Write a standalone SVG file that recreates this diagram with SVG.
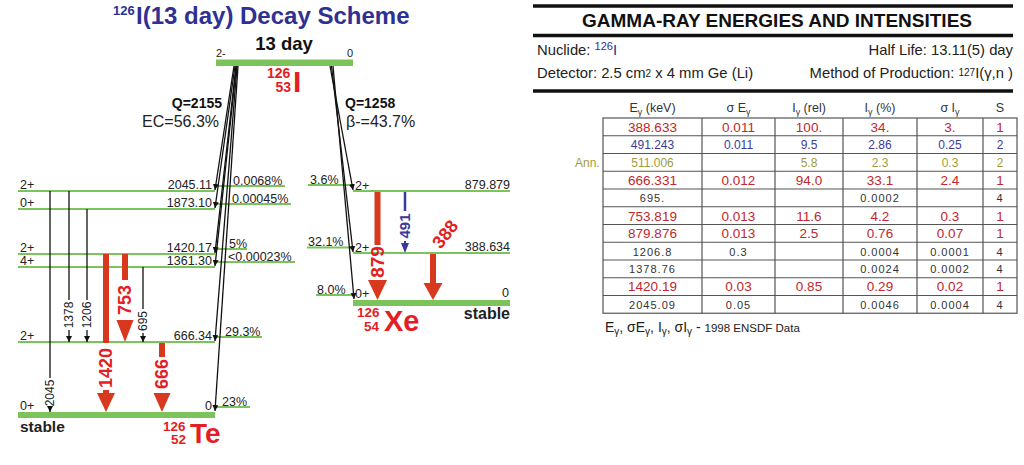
<svg xmlns="http://www.w3.org/2000/svg" width="1024" height="465" viewBox="0 0 1024 465">
<defs>
<style>
text{font-family:"Liberation Sans",Arial,sans-serif;}
.lvl{stroke:#7dc35b;stroke-width:2;fill:none;}
.bar{fill:#7dc35b;}
.lbl{font-size:12.5px;fill:#222;}
.pct{font-size:12.5px;fill:#222;}
.feed{stroke:#111;stroke-width:1.3;fill:none;}
.gth{stroke:#111;stroke-width:1.3;fill:none;}
.rshaft{fill:#d7381e;}
.rlab{fill:#e31e24;font-weight:bold;}
.glab{font-size:12px;fill:#222;}
.tline{stroke:#111;stroke-width:3.5;}
.grid{stroke:#555;stroke-width:1.2;fill:none;}
.hd{font-size:12.5px;fill:#333;text-anchor:middle;}
.cr{font-size:13.5px;fill:#c1272d;text-anchor:middle;}
.cb{font-size:12px;fill:#3c3c96;text-anchor:middle;}
.co{font-size:12px;fill:#a09c3c;text-anchor:middle;}
.ck{font-size:11px;fill:#333;text-anchor:middle;letter-spacing:1px;}
.info{font-size:14.8px;fill:#222;}
</style>
<marker id="ah" viewBox="0 0 6 6" refX="6" refY="3" markerWidth="6" markerHeight="6" markerUnits="userSpaceOnUse" orient="auto">
<path d="M0,0 L6,3 L0,6 z" fill="#111"/>
</marker>
</defs>
<rect width="1024" height="465" fill="#fff"/>

<g id="title">
<text x="113" y="15" font-size="13" font-weight="bold" fill="#2e3192">126</text>
<text x="136" y="24" font-size="24" font-weight="bold" fill="#2e3192">I(13 day) Decay Scheme</text>
</g>

<g id="parent-I126">
<text x="284" y="50" font-size="18.5" font-weight="bold" text-anchor="middle" fill="#111">13 day</text>
<text x="216" y="57" font-size="11" fill="#222">2-</text>
<text x="347" y="57" font-size="11" fill="#222">0</text>
<rect class="bar" x="216" y="59.5" width="137" height="6.5"/>
<text x="267" y="78" font-size="14" class="rlab">126</text>
<text x="291" y="92" font-size="14" class="rlab" text-anchor="end">53</text>
<text x="293" y="92" font-size="30" class="rlab">I</text>
<text x="222" y="108" font-size="14" font-weight="bold" text-anchor="end" fill="#111">Q=2155</text>
<text x="219" y="126.5" font-size="16" text-anchor="end" fill="#222">EC=56.3%</text>
<text x="345" y="108" font-size="14" font-weight="bold" fill="#111">Q=1258</text>
<text x="346" y="126.5" font-size="16" fill="#222">β-=43.7%</text>
</g>

<g id="te-2045">
<line class="lvl" x1="18" y1="191" x2="215" y2="191"/>
<line class="lvl" x1="215" y1="186" x2="285" y2="186"/>
<text class="lbl" x="20" y="189">2+</text>
<text class="lbl" x="212" y="189" text-anchor="end">2045.11</text>
<text class="pct" x="233" y="184.5">0.0068%</text>
</g>
<g id="te-1873">
<line class="lvl" x1="18" y1="209" x2="215" y2="209"/>
<line class="lvl" x1="215" y1="204" x2="291" y2="204"/>
<text class="lbl" x="20" y="207">0+</text>
<text class="lbl" x="212" y="207" text-anchor="end">1873.10</text>
<text class="pct" x="232" y="202.5">0.00045%</text>
</g>
<g id="te-1420">
<line class="lvl" x1="18" y1="254" x2="215" y2="254"/>
<line class="lvl" x1="215" y1="249" x2="247" y2="249"/>
<text class="lbl" x="20" y="252">2+</text>
<text class="lbl" x="212" y="252" text-anchor="end">1420.17</text>
<text class="pct" x="229" y="247.5">5%</text>
</g>
<g id="te-1361">
<line class="lvl" x1="18" y1="267" x2="215" y2="267"/>
<line class="lvl" x1="215" y1="262" x2="295" y2="262"/>
<text class="lbl" x="20" y="265">4+</text>
<text class="lbl" x="212" y="265" text-anchor="end">1361.30</text>
<text class="pct" x="228" y="260.5">&lt;0.00023%</text>
</g>
<g id="te-666">
<line class="lvl" x1="18" y1="342" x2="215" y2="342"/>
<line class="lvl" x1="215" y1="337" x2="262" y2="337"/>
<text class="lbl" x="20" y="340">2+</text>
<text class="lbl" x="212" y="340" text-anchor="end">666.34</text>
<text class="pct" x="225" y="335.5">29.3%</text>
</g>
<g id="te-0">
<rect class="bar" x="18" y="412" width="197" height="6"/>
<line class="lvl" x1="215" y1="407" x2="250" y2="407"/>
<text class="lbl" x="20" y="410">0+</text>
<text class="lbl" x="212" y="410" text-anchor="end">0</text>
<text class="pct" x="222" y="405.5">23%</text>
<text x="20" y="432" font-size="15.5" font-weight="bold" fill="#222">stable</text>
<text x="163" y="431" font-size="13.5" class="rlab">126</text>
<text x="186" y="444" font-size="13.5" class="rlab" text-anchor="end">52</text>
<text x="190" y="443" font-size="28" class="rlab">Te</text>
</g>

<g id="xe-879">
<line class="lvl" x1="353" y1="191" x2="510" y2="191"/>
<line class="lvl" x1="308" y1="185" x2="353" y2="185"/>
<text class="lbl" x="355" y="189.5">2+</text>
<text class="lbl" x="510" y="189" text-anchor="end">879.879</text>
<text class="pct" x="310" y="183.5">3.6%</text>
</g>
<g id="xe-388">
<line class="lvl" x1="353" y1="253" x2="510" y2="253"/>
<line class="lvl" x1="307" y1="247.5" x2="353" y2="247.5"/>
<text class="lbl" x="355" y="251.5">2+</text>
<text class="lbl" x="510" y="251" text-anchor="end">388.634</text>
<text class="pct" x="308" y="246">32.1%</text>
</g>
<g id="xe-0">
<rect class="bar" x="353" y="300" width="157" height="6"/>
<line class="lvl" x1="316" y1="295" x2="353" y2="295"/>
<text class="lbl" x="355" y="298">0+</text>
<text class="lbl" x="509" y="297" text-anchor="end">0</text>
<text class="pct" x="317" y="293.5">8.0%</text>
<text x="510" y="319" font-size="16" font-weight="bold" text-anchor="end" fill="#222">stable</text>
<text x="357" y="317" font-size="13.5" class="rlab">126</text>
<text x="379" y="331" font-size="13.5" class="rlab" text-anchor="end">54</text>
<text x="384" y="331" font-size="29" class="rlab">Xe</text>
</g>

<g id="connectors">
<g id="ec-feeding">
<line class="feed" x1="234" y1="66" x2="215" y2="190" marker-end="url(#ah)"/>
<line class="feed" x1="235" y1="66" x2="215" y2="208" marker-end="url(#ah)"/>
<line class="feed" x1="236" y1="66" x2="215" y2="253" marker-end="url(#ah)"/>
<line class="feed" x1="236.5" y1="66" x2="215" y2="266" marker-end="url(#ah)"/>
<line class="feed" x1="237" y1="66" x2="215" y2="341" marker-end="url(#ah)"/>
<line class="feed" x1="238" y1="66" x2="215" y2="411" marker-end="url(#ah)"/>
</g>
<g id="beta-feeding">
<line class="feed" x1="330" y1="66" x2="353" y2="190" marker-end="url(#ah)"/>
<line class="feed" x1="331.5" y1="66" x2="353" y2="252" marker-end="url(#ah)"/>
<line class="feed" x1="333" y1="66" x2="354" y2="299" marker-end="url(#ah)"/>
</g>
<g id="gamma-2045">
<line class="gth" x1="50" y1="191" x2="50" y2="378"/>
<line class="gth" x1="50" y1="406" x2="50" y2="412" marker-end="url(#ah)"/>
<text class="glab" transform="translate(50,393) rotate(-90)" text-anchor="middle" dy="0.35em">2045</text>
</g>
<g id="gamma-1378">
<line class="gth" x1="69" y1="191" x2="69" y2="300"/>
<line class="gth" x1="69" y1="330" x2="69" y2="342" marker-end="url(#ah)"/>
<text class="glab" transform="translate(69,315) rotate(-90)" text-anchor="middle" dy="0.35em">1378</text>
</g>
<g id="gamma-1206">
<line class="gth" x1="87" y1="209" x2="87" y2="300"/>
<line class="gth" x1="87" y1="330" x2="87" y2="342" marker-end="url(#ah)"/>
<text class="glab" transform="translate(87,315) rotate(-90)" text-anchor="middle" dy="0.35em">1206</text>
</g>
<g id="gamma-695">
<line class="gth" x1="143" y1="267" x2="143" y2="309"/>
<line class="gth" x1="143" y1="333" x2="143" y2="342" marker-end="url(#ah)"/>
<text class="glab" transform="translate(143,321) rotate(-90)" text-anchor="middle" dy="0.35em">695</text>
</g>
<g id="gamma-1420">
<rect class="rshaft" x="103" y="254" width="6" height="89"/>
<polygon class="rshaft" points="97,393 115,393 106,412"/>
<rect class="rshaft" x="103" y="390" width="6" height="4"/>
<text class="rlab" font-size="18" transform="translate(106,368) rotate(-90)" text-anchor="middle" dy="0.35em">1420</text>
</g>
<g id="gamma-753">
<rect class="rshaft" x="122" y="254" width="6" height="26"/>
<polygon class="rshaft" points="116.5,320 133.5,320 125,342"/>
<text class="rlab" font-size="18" transform="translate(125,300) rotate(-90)" text-anchor="middle" dy="0.35em">753</text>
</g>
<g id="gamma-666">
<rect class="rshaft" x="159" y="343" width="6" height="14"/>
<polygon class="rshaft" points="153.5,393 170.5,393 162,412"/>
<text class="rlab" font-size="18" transform="translate(162,374) rotate(-90)" text-anchor="middle" dy="0.35em">666</text>
</g>
<g id="gamma-879">
<rect class="rshaft" x="374.5" y="192" width="6" height="53"/>
<polygon class="rshaft" points="368,280 387,280 377.5,300"/>
<text class="rlab" font-size="19" transform="translate(377.5,262) rotate(-90)" text-anchor="middle" dy="0.35em">879</text>
</g>
<g id="gamma-491">
<line x1="405" y1="192" x2="405" y2="211" stroke="#3a3a98" stroke-width="2.5"/>
<polygon points="401,243 409,243 405,253" fill="#3a3a98"/>
<line x1="405" y1="241" x2="405" y2="244" stroke="#3a3a98" stroke-width="2"/>
<text font-size="15" font-weight="bold" fill="#3a3a98" transform="translate(405,226) rotate(-90)" text-anchor="middle" dy="0.35em">491</text>
</g>
<g id="gamma-388">
<rect class="rshaft" x="430" y="254" width="6" height="30"/>
<polygon class="rshaft" points="423.5,283 442.5,283 433,300"/>
<text class="rlab" font-size="18" transform="translate(445,234) rotate(-52)" text-anchor="middle" dy="0.35em">388</text>
</g>
</g>

<g id="table-header">
<line class="tline" x1="533" y1="6" x2="1013" y2="6"/>
<text x="777" y="27" font-size="17.5" font-weight="bold" text-anchor="middle" fill="#111" textLength="390" lengthAdjust="spacingAndGlyphs">GAMMA-RAY ENERGIES AND INTENSITIES</text>
<line class="tline" x1="533" y1="35.5" x2="1013" y2="35.5"/>
<text class="info" x="537" y="55">Nuclide: <tspan fill="#2e3192" font-size="11" dy="-5">126</tspan><tspan fill="#2e3192" dy="5">I</tspan></text>
<text class="info" x="1013" y="55" text-anchor="end">Half Life: 13.11(5) day</text>
<text class="info" x="537" y="78">Detector: 2.5 cm<tspan font-size="10" dy="-1">2</tspan><tspan dy="1"> x 4 mm Ge (Li)</tspan></text>
<text class="info" x="1013" y="78" text-anchor="end">Method of Production: <tspan font-size="10" dy="-2">127</tspan><tspan dy="2">I(γ,n )</tspan></text>
<line class="tline" x1="533" y1="91" x2="1013" y2="91"/>
</g>

<g id="table">
<text class="hd" x="652.5" y="112">E<tspan font-size="9" dy="3">γ</tspan><tspan dy="-3"> (keV)</tspan></text>
<text class="hd" x="738.5" y="112">σ E<tspan font-size="9" dy="3">γ</tspan></text>
<text class="hd" x="809" y="112">I<tspan font-size="9" dy="3">γ</tspan><tspan dy="-3"> (rel)</tspan></text>
<text class="hd" x="880" y="112">I<tspan font-size="9" dy="3">γ</tspan><tspan dy="-3"> (%)</tspan></text>
<text class="hd" x="950" y="112">σ I<tspan font-size="9" dy="3">γ</tspan></text>
<text class="hd" x="1000" y="112">S</text>

<rect class="grid" x="603" y="118" width="414" height="195.25"/>
<g class="grid">
<line x1="702" y1="118" x2="702" y2="313.25"/>
<line x1="775" y1="118" x2="775" y2="313.25"/>
<line x1="843" y1="118" x2="843" y2="313.25"/>
<line x1="917" y1="118" x2="917" y2="313.25"/>
<line x1="983" y1="118" x2="983" y2="313.25"/>
<line x1="603" y1="135.75" x2="1017" y2="135.75"/>
<line x1="603" y1="153.5" x2="1017" y2="153.5"/>
<line x1="603" y1="171.25" x2="1017" y2="171.25"/>
<line x1="603" y1="189" x2="1017" y2="189"/>
<line x1="603" y1="206.75" x2="1017" y2="206.75"/>
<line x1="603" y1="224.5" x2="1017" y2="224.5"/>
<line x1="603" y1="242.25" x2="1017" y2="242.25"/>
<line x1="603" y1="260" x2="1017" y2="260"/>
<line x1="603" y1="277.75" x2="1017" y2="277.75"/>
<line x1="603" y1="295.5" x2="1017" y2="295.5"/>
</g>

<g id="row-388">
<text class="cr" x="652.5" y="131.5">388.633</text><text class="cr" x="738.5" y="131.5">0.011</text><text class="cr" x="809" y="131.5">100.</text><text class="cr" x="880" y="131.5">34.</text><text class="cr" x="950" y="131.5">3.</text><text class="cr" x="1000" y="131.5">1</text>
</g>
<g id="row-491">
<text class="cb" x="652.5" y="149">491.243</text><text class="cb" x="738.5" y="149">0.011</text><text class="cb" x="809" y="149">9.5</text><text class="cb" x="880" y="149">2.86</text><text class="cb" x="950" y="149">0.25</text><text class="cb" x="1000" y="149" fill="#555">2</text>
</g>
<g id="row-511">
<text x="575" y="167" font-size="12" fill="#a09c3c">Ann.</text>
<text class="co" x="652.5" y="167">511.006</text><text class="co" x="809" y="167">5.8</text><text class="co" x="880" y="167">2.3</text><text class="co" x="950" y="167">0.3</text><text class="co" x="1000" y="167">2</text>
</g>
<g id="row-666">
<text class="cr" x="652.5" y="185">666.331</text><text class="cr" x="738.5" y="185">0.012</text><text class="cr" x="809" y="185">94.0</text><text class="cr" x="880" y="185">33.1</text><text class="cr" x="950" y="185">2.4</text><text class="cr" x="1000" y="185">1</text>
</g>
<g id="row-695">
<text class="ck" x="652.5" y="202">695.</text><text class="ck" x="880" y="202">0.0002</text><text class="ck" x="1000" y="202">4</text>
</g>
<g id="row-753">
<text class="cr" x="652.5" y="220.5">753.819</text><text class="cr" x="738.5" y="220.5">0.013</text><text class="cr" x="809" y="220.5">11.6</text><text class="cr" x="880" y="220.5">4.2</text><text class="cr" x="950" y="220.5">0.3</text><text class="cr" x="1000" y="220.5">1</text>
</g>
<g id="row-879">
<text class="cr" x="652.5" y="238">879.876</text><text class="cr" x="738.5" y="238">0.013</text><text class="cr" x="809" y="238">2.5</text><text class="cr" x="880" y="238">0.76</text><text class="cr" x="950" y="238">0.07</text><text class="cr" x="1000" y="238">1</text>
</g>
<g id="row-1206">
<text class="ck" x="652.5" y="255.5">1206.8</text><text class="ck" x="738.5" y="255.5">0.3</text><text class="ck" x="880" y="255.5">0.0004</text><text class="ck" x="950" y="255.5">0.0001</text><text class="ck" x="1000" y="255.5">4</text>
</g>
<g id="row-1378">
<text class="ck" x="652.5" y="273">1378.76</text><text class="ck" x="880" y="273">0.0024</text><text class="ck" x="950" y="273">0.0002</text><text class="ck" x="1000" y="273">4</text>
</g>
<g id="row-1420">
<text class="cr" x="652.5" y="291">1420.19</text><text class="cr" x="738.5" y="291">0.03</text><text class="cr" x="809" y="291">0.85</text><text class="cr" x="880" y="291">0.29</text><text class="cr" x="950" y="291">0.02</text><text class="cr" x="1000" y="291">1</text>
</g>
<g id="row-2045">
<text class="ck" x="652.5" y="308.5">2045.09</text><text class="ck" x="738.5" y="308.5">0.05</text><text class="ck" x="880" y="308.5">0.0046</text><text class="ck" x="950" y="308.5">0.0004</text><text class="ck" x="1000" y="308.5">4</text>
</g>
<text x="605" y="332" font-size="14" fill="#222">E<tspan font-size="10" dy="3">γ</tspan><tspan dy="-3">, σE</tspan><tspan font-size="10" dy="3">γ</tspan><tspan dy="-3">, I</tspan><tspan font-size="10" dy="3">γ</tspan><tspan dy="-3">, σI</tspan><tspan font-size="10" dy="3">γ</tspan><tspan dy="-3"> - </tspan><tspan font-size="11.5">1998 ENSDF Data</tspan></text>
</g>
</svg>
